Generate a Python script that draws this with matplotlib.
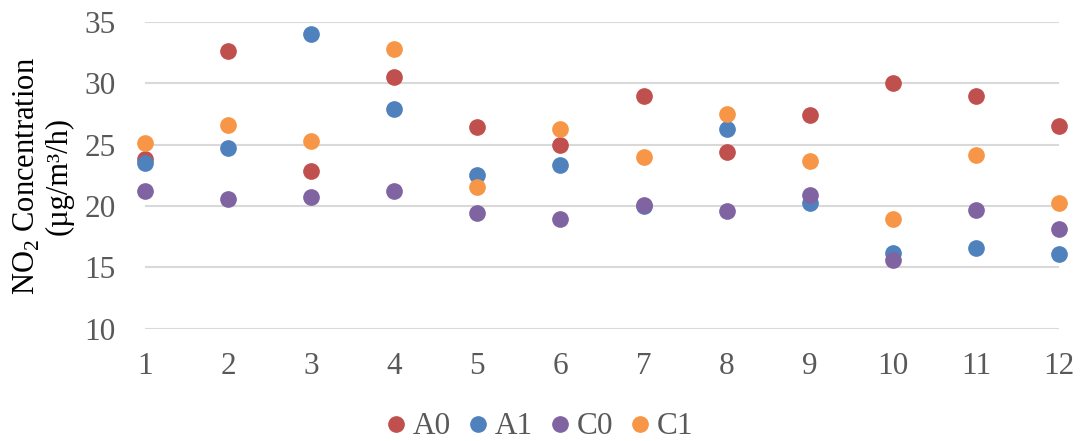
import matplotlib
matplotlib.use('Agg')
import matplotlib.pyplot as plt

plt.rcParams['font.family'] = 'Liberation Serif'
plt.rcParams['mathtext.fontset'] = 'custom'
plt.rcParams['mathtext.rm'] = 'Liberation Serif'

# monthly NO2 readings per site
months = [1, 2, 3, 4, 5, 6, 7, 8, 9, 10, 11, 12]
a0 = [23.86, 32.66, 22.86, 30.52, 26.47, 25.0, 28.94, 24.4, 27.4, 30.03, 28.94, 26.5]
a1 = [23.48, 24.73, 34.0, 27.88, 22.5, 23.37, 20.0, 26.25, 20.22, 16.15, 16.58, 16.12]
c0 = [21.23, 20.57, 20.74, 21.23, 19.46, 18.94, 20.06, 19.57, 20.87, 15.58, 19.7, 18.1]
c1 = [25.16, 26.63, 25.33, 32.83, 21.55, 26.25, 24.0, 27.47, 23.67, 18.92, 24.16, 20.25]

series = [('A0', a0, '#C0504D'), ('A1', a1, '#4F81BD'),
          ('C0', c0, '#8064A2'), ('C1', c1, '#F79646')]

fig = plt.figure(figsize=(10.8, 4.41), dpi=100)
ax = fig.add_axes([145/1080, 1 - 328.7/441, 914/1080, 306.7/441])

for name, vals, col in series:
    ax.plot(months, vals, 'o', color=col, markersize=11, label=name,
            clip_on=False, zorder=3)

ax.set_xlim(1, 12)
ax.set_ylim(10, 35)
ax.set_xticks(months)
ax.set_yticks(range(10, 36, 5))
ax.grid(axis='y', color='#D9D9D9', linewidth=1.5)
ax.set_axisbelow(True)
for s in ax.spines.values():
    s.set_visible(False)
ax.tick_params(length=0, labelsize=22.5, labelcolor='#595959')
ax.tick_params(axis='x', pad=17)
ax.tick_params(axis='y', pad=21)

fig.text(43/1080, 1 - 176/441, 'NO$_2$ Concentration\n(µg/m³/h)',
         rotation=90, ha='center', va='center', fontsize=22,
         multialignment='center', linespacing=1.1)

fig.legend(loc='center', bbox_to_anchor=(0.5, 1 - 427/441), ncol=4,
           frameon=False, fontsize=22.5, handlelength=0.6, handletextpad=0.25,
           columnspacing=0.55, labelcolor='#595959')

fig.savefig('out.png', dpi=100)
